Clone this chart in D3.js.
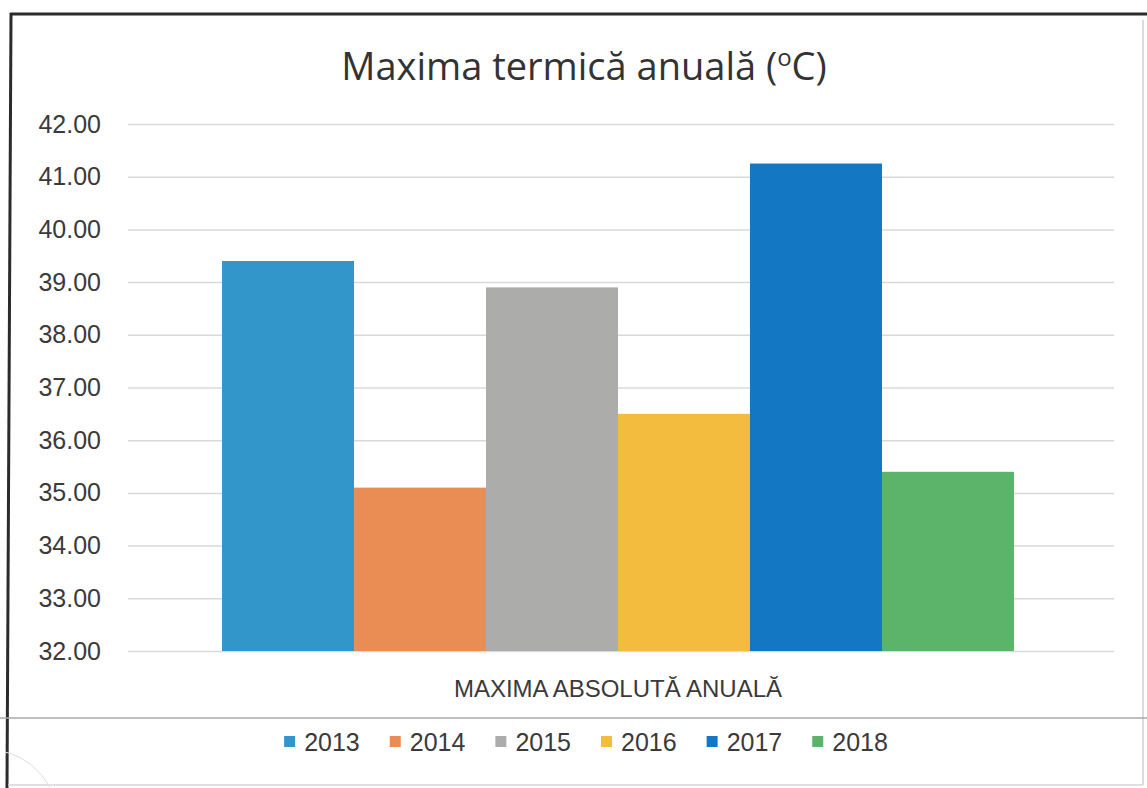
<!DOCTYPE html>
<html>
<head>
<meta charset="utf-8">
<script src="https://cdn.jsdelivr.net/npm/d3@7"></script>
<style>
  html, body { margin: 0; padding: 0; background: #ffffff; }
  svg { display: block; }
</style>
</head>
<body>
<svg id="chart" width="1147" height="788"></svg>
<script>
// ---- data ----
const category = "MAXIMA ABSOLUTĂ ANUALĂ";
const years = ["2013", "2014", "2015", "2016", "2017", "2018"];
const values = [39.4, 35.1, 38.9, 36.5, 41.25, 35.4];
const colors = ["#3396CB", "#EA8D55", "#ACADAB", "#F3BC3E", "#1477C3", "#5BB46A"];
const yTicks = [32, 33, 34, 35, 36, 37, 38, 39, 40, 41, 42];
const titleMain = "Maxima termică anuală (";
const titleSup = "o";
const titleEnd = "C)";

const svg = d3.select("#chart");
const W = 1147, H = 788;

// background + scanned frame
svg.append("rect").attr("width", W).attr("height", H).attr("fill", "#ffffff");
svg.append("line").attr("x1", 10).attr("y1", 14).attr("x2", W).attr("y2", 14)
  .attr("stroke", "#2b2b2b").attr("stroke-width", 3);
svg.append("line").attr("x1", 11).attr("y1", 13).attr("x2", 7).attr("y2", H)
  .attr("stroke", "#2b2b2b").attr("stroke-width", 3);
svg.append("line").attr("x1", 1143).attr("y1", 20).attr("x2", 1143).attr("y2", 785)
  .attr("stroke", "#cfcfcf").attr("stroke-width", 1.5);
svg.append("line").attr("x1", 8).attr("y1", 785).attr("x2", 1143).attr("y2", 785)
  .attr("stroke", "#d6d6d6").attr("stroke-width", 1.5);
svg.append("line").attr("x1", 0).attr("y1", 718).attr("x2", W).attr("y2", 718)
  .attr("stroke", "#a8a8a8").attr("stroke-width", 1.5);
svg.append("path").attr("d", "M 5 752 A 70 70 0 0 1 50 788")
  .attr("fill", "none").attr("stroke", "#dddddd").attr("stroke-width", 1);

// scales
const plotLeft = 128, plotRight = 1114, plotTop = 124, plotBottom = 651;
const y = d3.scaleLinear().domain([32, 42]).range([plotBottom, plotTop]);
const x0 = d3.scaleBand().domain([category]).range([plotLeft - 6, plotRight]).paddingInner(0).paddingOuter(0.1263);
const x1 = d3.scaleBand().domain(years).range([0, x0.bandwidth()]).padding(0);

// y axis with gridlines
const yAxis = d3.axisLeft(y)
  .tickValues(yTicks)
  .tickFormat(d3.format(".2f"))
  .tickSizeInner(-(plotRight - plotLeft))
  .tickSizeOuter(0)
  .tickPadding(27);
const gy = svg.append("g").attr("transform", `translate(${plotLeft},0)`).call(yAxis);
gy.select(".domain").remove();
gy.selectAll(".tick line").attr("stroke", "#d9d9d9").attr("stroke-width", 1.5);
gy.selectAll(".tick text")
  .attr("font-family", "'Liberation Sans', Arial, sans-serif")
  .attr("font-size", 25).attr("fill", "#3a3a3a");

// bars
const data = years.map((yr, i) => ({ year: yr, value: values[i], color: colors[i] }));
svg.append("g").selectAll("rect").data(data).join("rect")
  .attr("x", d => x0(category) + x1(d.year))
  .attr("y", d => y(d.value))
  .attr("width", x1.bandwidth())
  .attr("height", d => y(32) - y(d.value))
  .attr("fill", d => d.color);

// category label
svg.append("text")
  .attr("x", x0(category) + x0.bandwidth() / 2)
  .attr("y", 697)
  .attr("text-anchor", "middle")
  .attr("font-family", "'Liberation Sans', Arial, sans-serif")
  .attr("font-size", 24).attr("fill", "#3a3a3a")
  .text(category);

// title
const t = svg.append("text")
  .attr("x", 584).attr("y", 80)
  .attr("text-anchor", "middle")
  .attr("font-family", "'Open Sans', sans-serif")
  .attr("font-size", 38).attr("fill", "#333333");
t.append("tspan").text(titleMain);
t.append("tspan").attr("font-size", 24).attr("dy", -14).text(titleSup);
t.append("tspan").attr("dy", 14).text(titleEnd);

// legend
const lg = svg.append("g");
const items = lg.selectAll("g").data(data).join("g");
items.append("rect").attr("width", 11).attr("height", 11).attr("y", -15).attr("fill", d => d.color);
items.append("text").attr("x", 20).attr("y", 0)
  .attr("font-family", "'Liberation Sans', Arial, sans-serif")
  .attr("font-size", 25).attr("fill", "#3a3a3a")
  .text(d => d.year);
const gap = 30;
let cx = 0;
items.each(function () {
  const g = d3.select(this);
  g.attr("transform", `translate(${cx},0)`);
  const w = 20 + g.select("text").node().getComputedTextLength();
  cx += w + gap;
});
const totalW = cx - gap;
lg.attr("transform", `translate(${586 - totalW / 2},751)`);
</script>
</body>
</html>
